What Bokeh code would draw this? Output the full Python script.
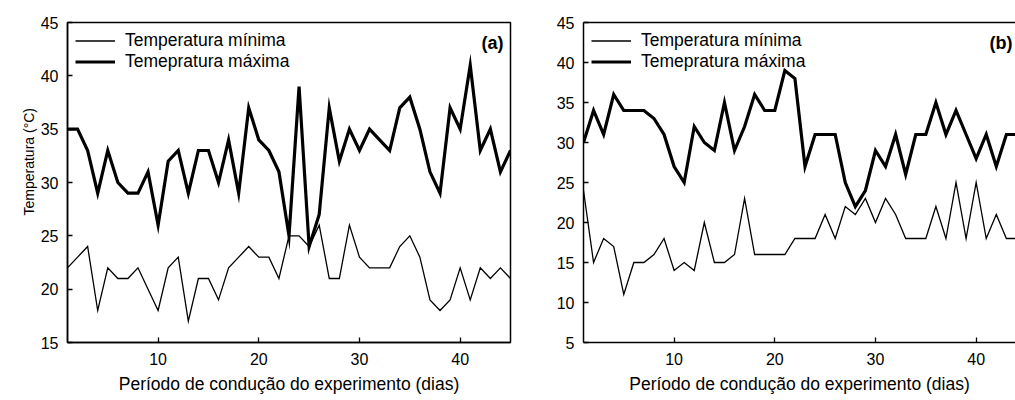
from bokeh.plotting import figure
from bokeh.models import (Legend, LegendItem, Label, FixedTicker, Range1d,
                          LinearAxis, ColumnDataSource, Title)
from bokeh.layouts import row
from bokeh.embed import file_html
from bokeh.resources import INLINE

FONT = "Liberation Sans"

days = list(range(1, 46))

# Panel (a)
min_a = [22, 23, 24, 18, 22, 21, 21, 22, 20, 18,
         22, 23, 17, 21, 21, 19, 22, 23, 24, 23,
         23, 21, 25, 25, 24, 26, 21, 21, 26, 23,
         22, 22, 22, 24, 25, 23, 19, 18, 19, 22,
         19, 22, 21, 22, 21]
max_a = [35, 35, 33, 29, 33, 30, 29, 29, 31, 26,
         32, 33, 29, 33, 33, 30, 34, 29, 37, 34,
         33, 31, 25, 39, 24, 27, 37, 32, 35, 33,
         35, 34, 33, 37, 38, 35, 31, 29, 37, 35,
         41, 33, 35, 31, 33]

# Panel (b)
min_b = [24, 15, 18, 17, 11, 15, 15, 16, 18, 14,
         15, 14, 20, 15, 15, 16, 23, 16, 16, 16,
         16, 18, 18, 18, 21, 18, 22, 21, 23, 20,
         23, 21, 18, 18, 18, 22, 18, 25, 18, 25,
         18, 21, 18, 18, 18]
max_b = [30, 34, 31, 36, 34, 34, 34, 33, 31, 27,
         25, 32, 30, 29, 35, 29, 32, 36, 34, 34,
         39, 38, 27, 31, 31, 31, 25, 22, 24, 29,
         27, 31, 26, 31, 31, 35, 31, 34, 31, 28,
         31, 27, 31, 31, 31]

x_ticks = [10, 20, 30, 40]
y_ticks_a = [15, 20, 25, 30, 35, 40, 45]
y_ticks_b = [5, 10, 15, 20, 25, 30, 35, 40, 45]

label_min = "Temperatura mínima"
label_max = "Temepratura máxima"
x_title = "Período de condução do experimento (dias)"
y_title = "Temperatura (°C)"


def style_axis(ax, ticks):
    ax.ticker = FixedTicker(ticks=ticks)
    ax.major_tick_in = 5
    ax.major_tick_out = 0
    ax.minor_tick_in = 0
    ax.minor_tick_out = 0
    ax.axis_line_width = 1.5
    ax.axis_line_color = "black"
    ax.major_tick_line_width = 1.3
    ax.major_tick_line_color = "black"
    ax.major_label_text_font = FONT
    ax.major_label_text_font_size = "16px"
    ax.major_label_text_color = "black"


def make_panel(width, x_end, y_start, y_ticks, tmin, tmax, tag, left, right,
               outline=True, ylabel=None):
    p = figure(width=width, height=400, output_backend="svg",
               toolbar_location=None,
               x_range=Range1d(1, x_end), y_range=Range1d(y_start, 45),
               min_border_left=left, min_border_right=right,
               min_border_top=22, min_border_bottom=58)
    p.grid.visible = False
    p.background_fill_color = "white"
    p.border_fill_color = "white"
    xa = p.below[0]
    ya = p.left[0]
    style_axis(xa, x_ticks)
    style_axis(ya, y_ticks)
    ya.major_label_standoff = 9
    xa.major_label_standoff = 10
    xa.axis_label = x_title
    xa.axis_label_text_font = FONT
    xa.axis_label_text_font_size = "17.5px"
    xa.axis_label_text_font_style = "normal"
    xa.axis_label_text_color = "black"
    xa.axis_label_standoff = 6
    if ylabel:
        p.add_layout(Title(text=ylabel, align="left", offset=127, standoff=2,
                           text_font=FONT, text_font_size="14px",
                           text_font_style="normal", text_color="black"),
                     "left")

    if outline:
        p.outline_line_color = "black"
        p.outline_line_width = 1.5
    else:
        p.outline_line_color = None
        top = LinearAxis(ticker=FixedTicker(ticks=[]), major_tick_in=0,
                         major_tick_out=0, minor_tick_in=0, minor_tick_out=0,
                         axis_line_width=1.5, axis_line_color="black",
                         major_label_text_font_size="0px",
                         major_label_standoff=0)
        p.add_layout(top, "above")

    src = ColumnDataSource(dict(day=days, tmin=tmin, tmax=tmax))
    r1 = p.line("day", "tmin", source=src, line_color="black",
                line_width=1.3, line_join="miter")
    r2 = p.line("day", "tmax", source=src, line_color="black",
                line_width=3.2, line_join="miter")
    legend = Legend(items=[LegendItem(label=label_min, renderers=[r1]),
                           LegendItem(label=label_max, renderers=[r2])],
                    location="top_left", margin=8, padding=0,
                    border_line_color=None, background_fill_alpha=0,
                    label_text_font=FONT, label_text_font_size="17.5px",
                    label_text_color="black",
                    glyph_width=40, glyph_height=21, label_height=21,
                    label_standoff=10, spacing=0)
    p.add_layout(legend)
    p.add_layout(Label(x=x_end, y=45, x_offset=-7 if outline else -3,
                       y_offset=-10, text=tag,
                       text_align="right", text_baseline="top",
                       text_font=FONT, text_font_style="bold",
                       text_font_size="18px", text_color="black"))
    return p


pa = make_panel(525, 45, 15, y_ticks_a, min_a, max_a, "(a)", 67, 15,
                ylabel=y_title)
pb = make_panel(490, 1 + 432 * 44 / 443, 5, y_ticks_b, min_b, max_b, "(b)",
                58, 0, outline=False)

layout = row(pa, pb)
open("out.html", "w").write(file_html(layout, INLINE))
